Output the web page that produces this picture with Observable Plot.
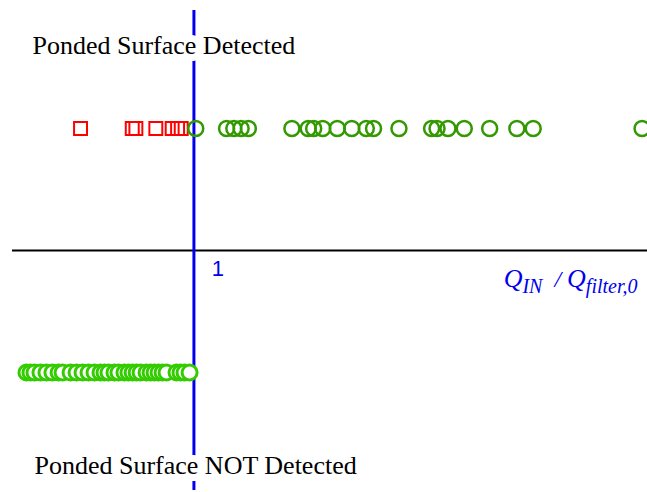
<!DOCTYPE html>
<html>
<head>
<meta charset="utf-8">
<script src="https://cdn.jsdelivr.net/npm/d3@7"></script>
<script src="https://cdn.jsdelivr.net/npm/@observablehq/plot@0.6"></script>
<style>
  html, body { margin: 0; padding: 0; background: #fff; }
</style>
</head>
<body>
<div id="chart"></div>
<script>
// Q_IN / Q_filter,0 values
const detectedSquares = [0.375, 0.66, 0.68, 0.79, 0.88, 0.91, 0.93];
const detectedCircles = [1.01, 1.18, 1.22, 1.26, 1.30, 1.54, 1.63, 1.66, 1.71, 1.79, 1.87, 1.95, 1.99, 2.13, 2.31, 2.34, 2.40, 2.49, 2.63, 2.78, 2.87, 3.47];
const notDetected = [0.077, 0.099, 0.121, 0.154, 0.187, 0.22, 0.254, 0.276, 0.32, 0.353, 0.386, 0.419, 0.452, 0.485, 0.507, 0.529, 0.562, 0.584, 0.617, 0.639, 0.662, 0.684, 0.706, 0.739, 0.761, 0.783, 0.805, 0.827, 0.849, 0.904, 0.926, 0.948, 0.976];
const outcomeLabels = ["Ponded Surface Detected", "Ponded Surface NOT Detected"];
const tickLabels = ["1"];
const axisLabel = "Q_IN / Q_filter,0";

const chart = Plot.plot({
  width: 647,
  height: 492,
  margin: 0,
  style: { background: "white" },
  x: { domain: [0, 3.5], range: [12, 647], axis: null },
  y: { domain: [-1, 1], range: [372, 128], axis: null },
  marks: [
    Plot.ruleY([0], { x1: 0, x2: 3.5, stroke: "black", strokeWidth: 2 }),
    Plot.ruleX([1], { y1: -1.967, y2: 1.967, stroke: "#0000ee", strokeWidth: 3 }),
    Plot.dot(detectedSquares, { x: d => d, y: 1, symbol: "square", r: 7.3, stroke: "red", fill: "none", strokeWidth: 2 }),
    Plot.dot(detectedCircles, { x: d => d, y: 1, symbol: "circle", r: 7.5, stroke: "#339900", fill: "none", strokeWidth: 2.5 }),
    Plot.dot(notDetected, { x: d => d, y: -1, symbol: "circle", r: 7.5, stroke: "#33cc00", fill: "white", strokeWidth: 3 }),
    Plot.text([outcomeLabels[0]], { x: 0.11, y: 1.68, text: d => d, textAnchor: "start", fontFamily: "Liberation Serif", fontSize: 26, fill: "black", stroke: "white", strokeWidth: 14 }),
    Plot.text([outcomeLabels[1]], { x: 0.121, y: -1.762, text: d => d, textAnchor: "start", fontFamily: "Liberation Serif", fontSize: 26, fill: "black", stroke: "white", strokeWidth: 14 }),
    Plot.text(tickLabels, { x: d => +d, y: 0, dx: 24, dy: 18, text: d => d, fontFamily: "Liberation Sans", fontSize: 22, fill: "#0000ee" }),
    Plot.text([axisLabel], { x: 2.707, y: -0.23, text: d => d, textAnchor: "start", fontFamily: "Liberation Serif", fontStyle: "italic", fontSize: 26, fill: "#0000ee" })
  ]
});
document.getElementById("chart").appendChild(chart);

// typeset the axis label with subscripts
d3.select(chart).selectAll("text").each(function () {
  const t = d3.select(this);
  if (t.text() === axisLabel) {
    t.text(null);
    t.append("tspan").text("Q");
    t.append("tspan").attr("font-size", 20).attr("dy", 6).text("IN");
    t.append("tspan").attr("dy", -6).attr("font-size", 24).text("  / ");
    t.append("tspan").text("Q");
    t.append("tspan").attr("font-size", 20).attr("dy", 6).text("filter,0");
  }
});
</script>
</body>
</html>
